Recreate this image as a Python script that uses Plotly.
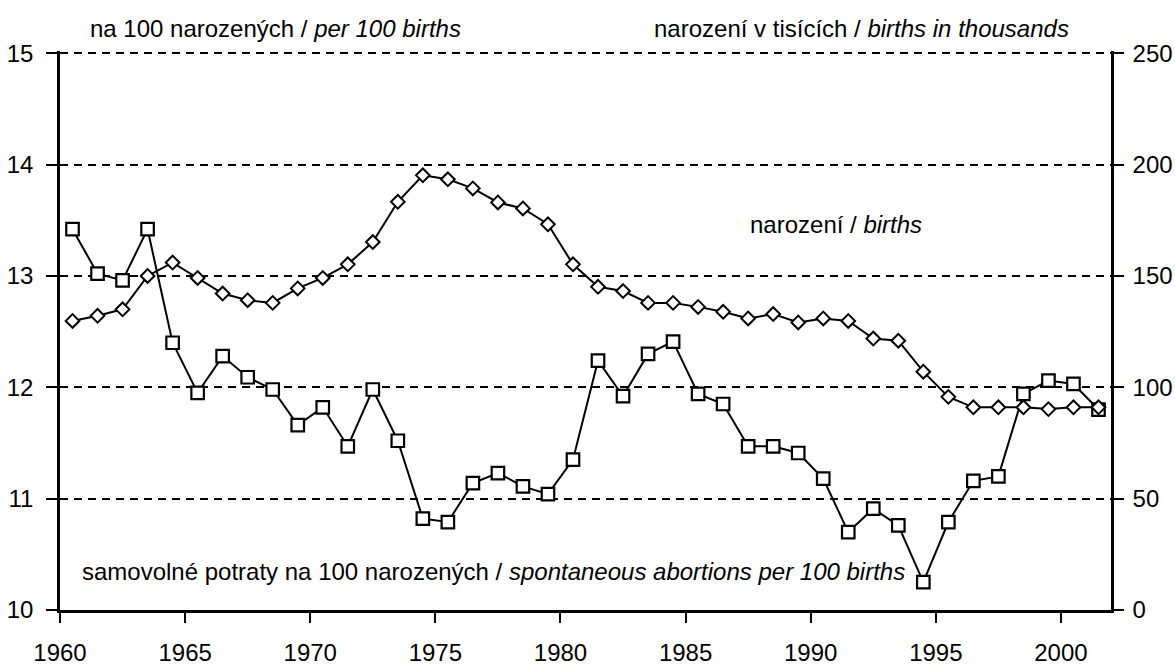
import plotly.graph_objects as go

years = list(range(1960, 2002))
abortions_per_100 = [13.42, 13.02, 12.96, 13.42, 12.40, 11.95, 12.28, 12.09, 11.98, 11.66,
                     11.82, 11.47, 11.98, 11.52, 10.82, 10.79, 11.14, 11.23, 11.11, 11.04,
                     11.35, 12.24, 11.92, 12.30, 12.41, 11.94, 11.85, 11.47, 11.47, 11.41,
                     11.18, 10.70, 10.91, 10.76, 10.25, 10.79, 11.16, 11.20, 11.94, 12.06,
                     12.03, 11.80]
births_thousands = [129.8, 132.1, 135.0, 150.0, 156.0, 149.1, 142.1, 139.1, 137.9, 144.4,
                    149.1, 155.2, 165.2, 183.3, 195.2, 193.4, 189.3, 183.0, 180.3, 173.2,
                    155.2, 145.1, 143.2, 137.9, 137.9, 136.1, 133.9, 130.9, 132.9, 129.1,
                    130.9, 129.8, 121.9, 120.9, 107.0, 95.7, 91.0, 91.0, 91.0, 90.2,
                    91.0, 91.0]
x_tick_vals = [1960, 1965, 1970, 1975, 1980, 1985, 1990, 1995, 2000]
left_ticks = [10, 11, 12, 13, 14, 15]
right_ticks = [0, 50, 100, 150, 200, 250]

xpos = [y + 0.5 for y in years]
FONT = "Liberation Sans, Arial, sans-serif"
FS = 24
TFS = 24

fig = go.Figure()
fig.add_trace(go.Scatter(
    x=xpos, y=abortions_per_100, mode="lines+markers", yaxis="y",
    line=dict(color="black", width=2),
    marker=dict(symbol="square", size=12.5, color="white", line=dict(color="black", width=2.2)),
    showlegend=False, cliponaxis=False))
fig.add_trace(go.Scatter(
    x=xpos, y=births_thousands, mode="lines+markers", yaxis="y2",
    line=dict(color="black", width=2),
    marker=dict(symbol="diamond", size=10.5, color="white", line=dict(color="black", width=2)),
    showlegend=False, cliponaxis=False))

fig.update_layout(
    width=1175, height=668,
    margin=dict(l=60, r=64, t=51, b=58, autoexpand=False),
    paper_bgcolor="white", plot_bgcolor="white",
    font=dict(family=FONT, size=FS, color="black"),
    xaxis=dict(range=[1960, 2002], tickvals=x_tick_vals, ticks="outside", ticklen=10,
               tickwidth=2, tickcolor="black", showline=True, linecolor="black",
               linewidth=2.5, showgrid=False, zeroline=False, automargin=False,
               ticklabelstandoff=9, tickfont=dict(family=FONT, size=TFS)),
    yaxis=dict(range=[10, 15.02], tickvals=left_ticks, ticks="outside", ticklen=11,
               tickwidth=2, tickcolor="black", showline=True, linecolor="black",
               linewidth=2.5, showgrid=True, gridcolor="black", gridwidth=2,
               griddash="8px,6px", zeroline=False, automargin=False,
               ticklabelstandoff=8, tickfont=dict(family=FONT, size=TFS)),
    yaxis2=dict(range=[0, 251], tickvals=right_ticks, overlaying="y", side="right",
                ticks="outside", ticklen=10, tickwidth=2, tickcolor="black",
                showline=True, linecolor="black", linewidth=2.5, showgrid=False,
                zeroline=False, automargin=False, ticklabelstandoff=4,
                tickfont=dict(family=FONT, size=TFS)),
    annotations=[
        dict(text="na 100 narozených / <i>per 100 births</i>", xref="paper", yref="paper",
             x=0.0265, y=1.041, xanchor="left", yanchor="middle", showarrow=False,
             font=dict(family=FONT, size=FS)),
        dict(text="narození v tisících / <i>births in thousands</i>", xref="paper", yref="paper",
             x=0.9615, y=1.041, xanchor="right", yanchor="middle", showarrow=False,
             font=dict(family=FONT, size=FS)),
        dict(text="narození / <i>births</i>", xref="paper", yref="paper",
             x=0.655, y=0.689, xanchor="left", yanchor="middle", showarrow=False,
             font=dict(family=FONT, size=FS)),
        dict(text="samovolné potraty na 100 narozených / <i>spontaneous abortions per 100 births</i>",
             xref="paper", yref="paper", x=0.0195, y=0.068, xanchor="left", yanchor="middle",
             showarrow=False, font=dict(family=FONT, size=FS)),
    ],
)

fig.write_html("out.html", config={"displayModeBar": False},
               post_script="document.body.style.margin='0';document.body.style.overflow='hidden';")
